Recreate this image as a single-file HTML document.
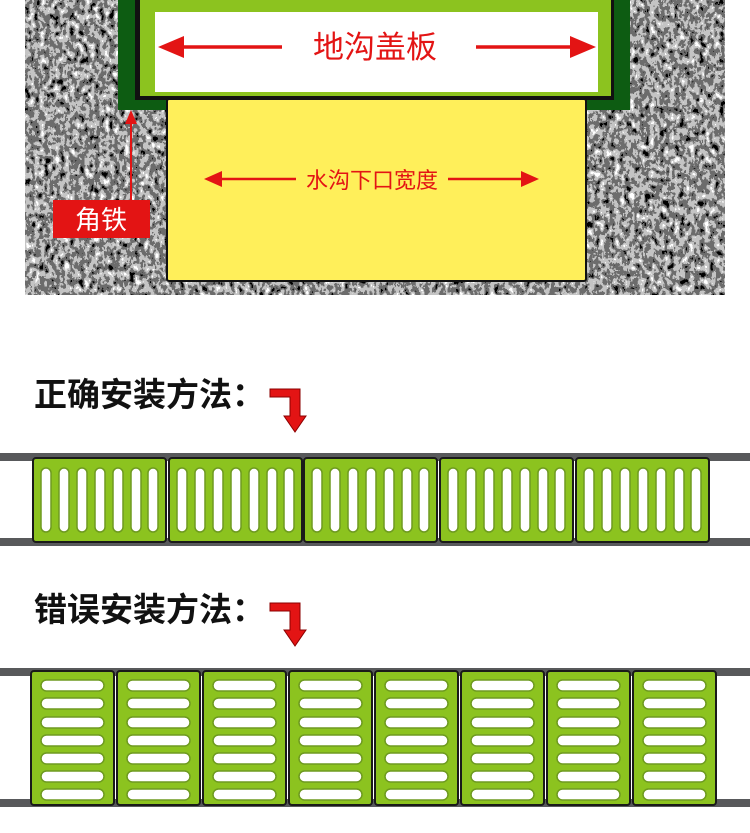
<!DOCTYPE html>
<html><head><meta charset="utf-8"><style>
html,body{margin:0;padding:0;background:#fff;}
svg{display:block;}
text{font-family:"Liberation Sans","Noto Sans CJK SC",sans-serif;}
</style></head><body>
<svg width="750" height="833" viewBox="0 0 750 833" xmlns="http://www.w3.org/2000/svg">
<defs>
<filter id="tx" x="0" y="0" width="100%" height="100%">
<feTurbulence type="fractalNoise" baseFrequency="0.2 0.14" numOctaves="3" seed="3" result="n"/>
<feColorMatrix type="matrix" values="0.33 0.33 0.33 0 0 0.33 0.33 0.33 0 0 0.33 0.33 0.33 0 0 0 0 0 0 1"/>
<feComponentTransfer><feFuncR type="discrete" tableValues="0 0 0 0.15 0.55 1 1 1"/><feFuncG type="discrete" tableValues="0 0 0 0.15 0.55 1 1 1"/><feFuncB type="discrete" tableValues="0 0 0 0.15 0.55 1 1 1"/></feComponentTransfer>
</filter>
<g id="pv">
<rect x="0" y="0" width="133" height="84" rx="3" fill="#8cc31f" stroke="#1a1a1a" stroke-width="2"/>
<g fill="#fff" stroke="#6e9a20" stroke-width="1.5">
<rect x="8" y="10" width="10" height="64" rx="5"/><rect x="26" y="10" width="10" height="64" rx="5"/><rect x="44" y="10" width="10" height="64" rx="5"/><rect x="62" y="10" width="10" height="64" rx="5"/><rect x="80" y="10" width="10" height="64" rx="5"/><rect x="98" y="10" width="10" height="64" rx="5"/><rect x="115" y="10" width="10" height="64" rx="5"/>
</g></g>
<g id="ph">
<rect x="0" y="0" width="83" height="134" rx="3" fill="#8cc31f" stroke="#1a1a1a" stroke-width="2"/>
<g fill="#fff" stroke="#6e9a20" stroke-width="1.5">
<rect x="10" y="9" width="63" height="11" rx="5.5"/><rect x="10" y="27" width="63" height="11" rx="5.5"/><rect x="10" y="46" width="63" height="11" rx="5.5"/><rect x="10" y="64" width="63" height="11" rx="5.5"/><rect x="10" y="82" width="63" height="11" rx="5.5"/><rect x="10" y="100" width="63" height="11" rx="5.5"/><rect x="10" y="118" width="63" height="11" rx="5.5"/>
</g></g>
</defs>
<rect x="25" y="0" width="700" height="295" fill="#888" filter="url(#tx)"/>
<rect x="118" y="0" width="512" height="110" fill="#0d5c12"/>
<rect x="135" y="0" width="479" height="100" fill="#111"/>
<rect x="140" y="0" width="471" height="96" fill="#8cc31f"/>
<rect x="155" y="12" width="443" height="80" fill="#fff"/>
<rect x="167" y="99" width="419" height="182" fill="#ffef5a" stroke="#111" stroke-width="2" rx="2"/>
<text x="375" y="58" font-size="31" fill="#e31414" text-anchor="middle">地沟盖板</text>
<g stroke="#e31414" stroke-width="3.5" fill="#e31414">
<line x1="172" y1="47" x2="282" y2="47"/><polygon points="158,47 184,36 184,58" stroke="none"/>
<line x1="476" y1="47" x2="582" y2="47"/><polygon points="596,47 570,36 570,58" stroke="none"/>
</g>
<text x="372" y="188" font-size="22" fill="#e31414" text-anchor="middle">水沟下口宽度</text>
<g stroke="#e31414" stroke-width="2.5" fill="#e31414">
<line x1="215" y1="179" x2="296" y2="179"/><polygon points="204,179 222,171 222,187" stroke="none"/>
<line x1="448" y1="179" x2="528" y2="179"/><polygon points="539,179 521,171 521,187" stroke="none"/>
<line x1="131" y1="120" x2="131" y2="202" stroke-width="2"/><polygon points="131,110 125,124 137,124" stroke="none"/>
</g>
<rect x="53" y="200" width="97" height="38" fill="#e31414"/>
<text x="101" y="229" font-size="26" fill="#fff" text-anchor="middle">角铁</text>
<text x="34" y="406" font-size="33" font-weight="bold" fill="#111">正确安装方法：</text>
<g fill="#e31414" stroke="#8b0000" stroke-width="1"><path d="M270 389 H300 V416 H306 L295 432 L284 416 H290 V397 H270 Z"/></g>
<rect x="0" y="453" width="750" height="8" fill="#58595b"/>
<rect x="0" y="538" width="750" height="8" fill="#58595b"/>
<use href="#pv" x="33" y="458"/><use href="#pv" x="169" y="458"/><use href="#pv" x="304" y="458"/><use href="#pv" x="440" y="458"/><use href="#pv" x="576" y="458"/>
<text x="34" y="621" font-size="33" font-weight="bold" fill="#111">错误安装方法：</text>
<g fill="#e31414" stroke="#8b0000" stroke-width="1"><path d="M270 603 H300 V630 H306 L295 646 L284 630 H290 V611 H270 Z"/></g>
<rect x="0" y="668" width="750" height="8" fill="#58595b"/>
<rect x="0" y="799" width="750" height="8" fill="#58595b"/>
<use href="#ph" x="31" y="671"/><use href="#ph" x="117" y="671"/><use href="#ph" x="203" y="671"/><use href="#ph" x="289" y="671"/><use href="#ph" x="375" y="671"/><use href="#ph" x="461" y="671"/><use href="#ph" x="547" y="671"/><use href="#ph" x="633" y="671"/>
</svg>
</body></html>
